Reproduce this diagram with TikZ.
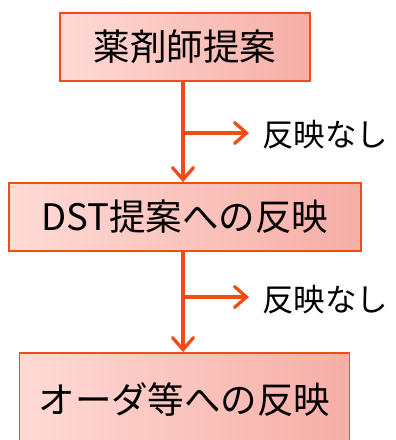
\documentclass[tikz,border=0pt]{standalone}
\usepackage{fontspec}
\setmainfont{Noto Sans CJK JP}
\usetikzlibrary{arrows.meta}
\definecolor{edge}{RGB}{242,76,22}
\definecolor{fillL}{RGB}{255,218,214}
\definecolor{fillR}{RGB}{246,174,166}
\tikzset{
  stepbox/.style={draw=edge, line width=1.8pt, left color=fillL, right color=fillR,
    minimum height=68pt, inner sep=0pt, font=\fontsize{36.5}{36.5}\selectfont},
  conn/.style={draw=edge, line width=3.3pt},
  tip/.style={-{Straight Barb[length=12pt,width=21pt,line cap=round]}},
  note/.style={inner sep=0pt, anchor=west, font=\fontsize{31.5}{31.5}\selectfont}
}
\begin{document}
\begin{tikzpicture}[x=1pt,y=-1pt]
\useasboundingbox (0,0) rectangle (396,440);
\begin{scope}
\clip (0,0) rectangle (396,440);
\node[stepbox, minimum width=250pt] (b1) at (185,47) {薬剤師提案};
\node[stepbox, minimum width=352pt] (b2) at (185,217) {DST提案への反映};
\node[stepbox, minimum width=330pt, minimum height=94pt] (b3) at (184.5,400) {オーダ等への反映};
\end{scope}
\node[note] (n1) at (262,135) {反映なし};
\node[note] (n2) at (262,300) {反映なし};
\coordinate (j1) at (183,133);
\coordinate (j2) at (183,297);
\draw[conn, tip] (b1.south -| j1) -- (b2.north -| j1);
\draw[conn, tip] (b2.south -| j2) -- (b3.north -| j2);
\draw[conn, tip, shorten >=13pt] (j1) -- (n1.west |- j1);
\draw[conn, tip, shorten >=13pt] (j2) -- (n2.west |- j2);
\end{tikzpicture}
\end{document}
